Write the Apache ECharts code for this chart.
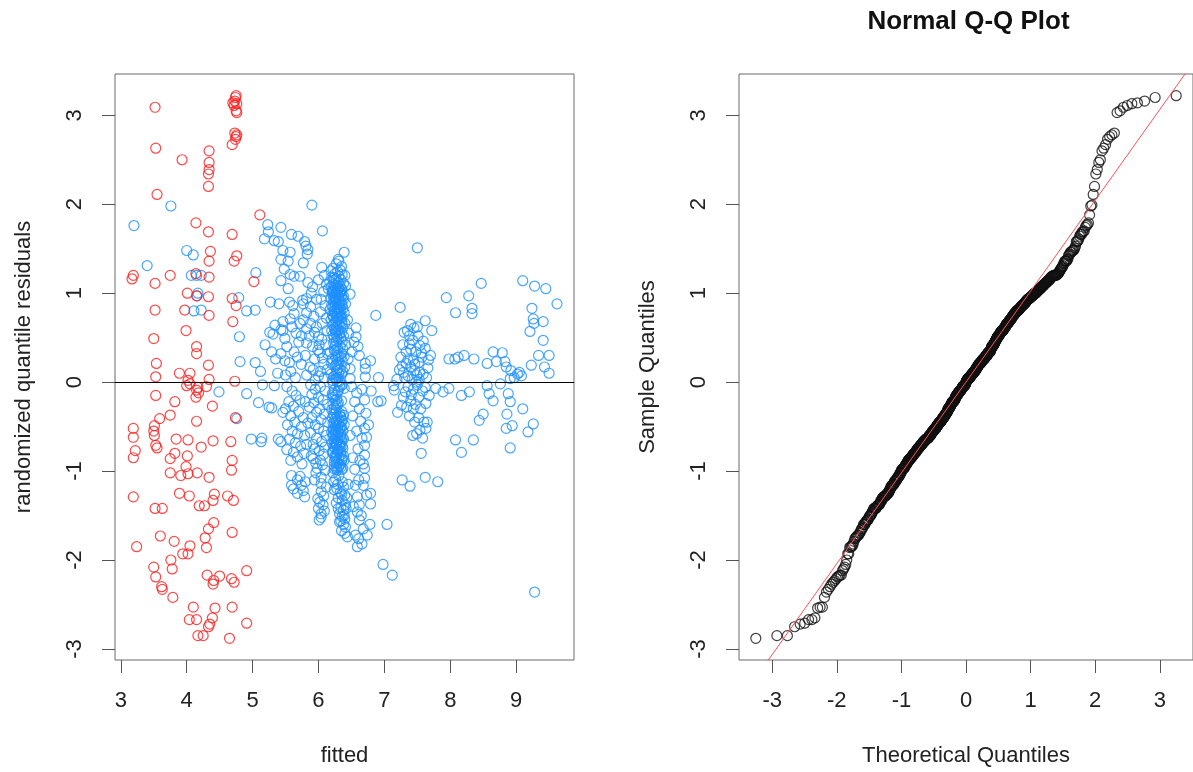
<!DOCTYPE html>
<html>
<head>
<meta charset="utf-8">
<script src="https://cdn.jsdelivr.net/npm/echarts@6/dist/echarts.min.js"></script>
<style>
  html, body { margin: 0; padding: 0; background: #fff; }
  #chart { width: 1193px; height: 772px; }
</style>
</head>
<body>
<div id="chart"></div>
<script>
// Randomized quantile residuals against fitted values, [fitted, residual]
// Observations with low fitted values (drawn in red)
const redPoints = [
  [3.52,3.09],[3.53,2.63],[3.55,2.11],[3.93,2.50],[4.34,2.60],[4.34,2.47],[4.34,2.39],[4.33,2.34],[4.33,2.20],
  [4.75,3.22],[4.74,3.20],[4.73,3.16],[4.70,3.14],[4.76,3.13],[4.72,3.11],[4.75,3.05],[4.76,3.03],
  [4.73,2.80],[4.76,2.78],[4.75,2.76],[4.74,2.73],[4.69,2.67],
  [5.11,1.88],[4.14,1.79],[4.33,1.69],[4.69,1.66],[4.36,1.47],[4.76,1.42],[4.34,1.36],[4.72,1.36],
  [3.19,1.20],[3.17,1.16],[3.75,1.20],[4.14,1.22],[4.34,1.18],[3.52,1.11],[5.02,1.13],[4.01,1.00],
  [4.15,0.97],[4.33,0.96],[4.69,0.94],[4.75,0.86],[3.52,0.81],[3.97,0.81],[4.34,0.75],[4.70,0.68],
  [3.99,0.58],[3.50,0.49],[4.15,0.40],[4.15,0.32],[3.54,0.21],[4.33,0.19],[3.89,0.10],[4.05,0.10],
  [3.53,0.06],[4.02,0.02],[4.34,0.03],[4.73,0.01],
  [3.53,-0.15],[4.00,-0.04],[4.05,-0.02],[4.15,-0.09],[4.18,-0.12],[4.17,-0.06],[4.30,-0.05],[4.14,-0.17],
  [3.82,-0.22],[4.39,-0.27],[3.75,-0.37],[3.59,-0.41],[4.74,-0.40],[4.15,-0.44],[3.19,-0.52],[3.51,-0.49],
  [3.50,-0.55],[3.51,-0.60],[3.19,-0.62],[3.84,-0.64],[4.02,-0.65],[4.40,-0.66],[4.67,-0.67],[3.53,-0.71],
  [3.55,-0.74],[4.22,-0.73],[3.22,-0.77],[3.82,-0.80],[3.75,-0.86],[3.19,-0.85],[4.01,-0.83],[4.69,-0.88],
  [3.99,-0.95],[4.68,-0.99],[3.75,-1.02],[4.16,-1.02],[3.91,-1.05],[4.02,-1.03],[4.34,-1.07],[3.89,-1.25],
  [4.04,-1.28],[4.42,-1.26],[4.62,-1.28],[4.71,-1.33],[3.19,-1.29],[4.19,-1.39],[4.27,-1.39],[4.40,-1.33],
  [3.52,-1.42],[3.63,-1.42],[4.41,-1.58],[4.33,-1.65],[4.69,-1.69],[3.60,-1.73],[4.28,-1.75],[3.81,-1.79],
  [4.05,-1.84],[3.24,-1.85],[4.30,-1.86],[3.94,-1.93],[4.02,-1.93],[3.76,-2.00],[3.78,-2.10],[3.50,-2.08],
  [3.53,-2.19],[3.62,-2.30],[3.63,-2.33],[4.31,-2.17],[4.41,-2.23],[4.40,-2.27],[4.50,-2.18],[4.68,-2.21],
  [4.72,-2.25],[4.91,-2.12],[3.79,-2.42],[4.10,-2.53],[4.43,-2.54],[4.69,-2.53],[4.04,-2.67],[4.15,-2.67],
  [4.39,-2.65],[4.33,-2.75],[4.35,-2.72],[4.17,-2.85],[4.25,-2.85],[4.65,-2.88],[4.91,-2.71]
];

// Remaining observations (drawn in blue): scattered points left of 5.8
const blueLeft = [
  [3.20,1.76],[3.40,1.31],[3.76,1.98],[4.00,1.48],[4.10,1.43],[4.07,1.20],[4.15,1.20],[4.22,1.20],
  [4.17,1.00],[4.16,0.97],[4.11,0.80],[4.22,0.81],[4.79,0.95],[4.80,0.51],[4.81,0.23],[5.05,1.23],
  [4.91,0.80],[5.04,0.81],[5.04,0.22],[5.90,1.99],[6.06,1.70],[7.50,1.51],
  [4.49,-0.11],[4.76,-0.41],[4.91,-0.13],[5.15,-0.03],[5.33,-0.04],[5.09,-0.23],[5.25,-0.28],[5.29,-0.29],
  [5.46,-0.34],[4.98,-0.64],[5.14,-0.63],[5.13,-0.67],[5.39,-0.64],[5.43,-0.67],[6.59,-1.85],[7.04,-1.60],
  [6.98,-2.05],[7.12,-2.17],[9.28,-2.36],
  [5.23,1.77],[5.24,1.69],[5.18,1.61],[5.43,1.74],[5.33,1.59],[5.39,1.58],[5.59,1.66],[5.69,1.64],
  [5.79,1.58],[5.81,1.53],[5.84,1.49],[5.83,1.44],[5.77,1.34],[5.46,1.48],[5.57,1.46],[5.43,1.38],
  [5.54,1.36],[5.48,1.27],[5.57,1.21],[5.63,1.19],[5.72,1.19],[5.43,1.14],[5.54,1.05],
  [5.27,0.90],[5.40,0.88],[5.56,0.90],[5.61,0.86],[5.63,0.77],[5.57,0.71],[5.46,0.68],[5.34,0.64],
  [5.26,0.56],[5.31,0.54],[5.43,0.59],[5.49,0.49],[5.46,0.58],[5.19,0.42],[5.29,0.34],[5.35,0.26],
  [5.43,0.32],[5.49,0.24],[5.56,0.22],[5.63,0.34],[5.60,0.62],[5.66,0.55],[5.70,0.45],[5.52,0.40],
  [5.58,0.12],[5.65,0.05],[5.50,0.08],[5.74,0.20],[5.68,0.28],[5.38,0.10],[5.72,0.66],[5.76,0.92],[5.12,0.12],
  [5.52,-0.05],[5.60,-0.10],[5.66,-0.15],[5.55,-0.22],[5.72,-0.20],[5.62,-0.27],[5.50,-0.30],[5.70,-0.33],
  [5.58,-0.38],[5.77,-0.40],[5.64,-0.45],[5.53,-0.48],[5.74,-0.50],[5.60,-0.55],[5.68,-0.58],[5.79,-0.60],
  [5.56,-0.64],[5.65,-0.68],[5.73,-0.72],[5.52,-0.76],[5.62,-0.79],[5.78,-0.80],[5.68,-0.84],[5.58,-0.88],
  [5.75,-0.92],[5.82,-0.70],[5.84,-0.46],[5.80,-0.22],[5.59,-1.05],[5.59,-1.16],[5.68,-1.10],[5.74,-1.16],
  [5.77,-1.22],[5.79,-1.29],[5.68,-1.25],[5.62,-1.20],[5.72,-1.06],[5.80,-1.12]
];

// Blue column around fitted 5.8 - 6.15
const blueMid = [
  [5.84,1.12],[5.89,1.00],[5.82,0.94],[5.77,0.88],[5.88,0.85],[5.82,0.78],[5.93,0.74],[5.77,0.70],
  [5.88,0.66],[5.82,0.60],[5.94,0.56],[6.00,0.51],[5.74,0.52],[5.82,0.44],[5.91,0.40],[5.99,0.36],
  [5.80,0.30],[5.94,0.26],[6.06,0.27],[5.87,0.17],[6.03,0.12],[5.82,0.08],[6.09,0.05],[5.95,0.02],
  [6.05,1.29],[6.09,1.20],[6.00,1.15],[6.12,1.10],[6.08,1.02],[6.04,0.93],[6.10,0.86],[6.03,0.79],
  [6.12,0.72],[6.06,0.66],[6.13,0.58],[6.05,0.48],[6.11,0.42],[6.02,0.33],[6.14,0.32],[6.08,0.20],
  [6.13,0.14],[6.00,0.07],[5.97,0.93],[5.86,0.52],[5.97,0.62],[5.91,1.07],[6.01,0.42],[5.92,0.14],
  [5.88,-0.03],[5.95,-0.08],[6.03,-0.05],[6.10,-0.10],[5.90,-0.14],[6.00,-0.17],[6.07,-0.20],[5.93,-0.23],
  [6.13,-0.25],[5.86,-0.28],[6.02,-0.30],[5.97,-0.34],[6.09,-0.36],[5.90,-0.40],[6.04,-0.42],[6.14,-0.45],
  [5.95,-0.48],[6.00,-0.52],[6.08,-0.55],[5.88,-0.57],[6.12,-0.60],[5.97,-0.63],[6.05,-0.67],[5.92,-0.70],
  [6.10,-0.73],[6.01,-0.77],[5.92,-0.86],[6.08,-0.81],[5.96,-0.91],[6.03,-0.88],[5.94,-0.75],[6.06,-0.93],[5.89,-0.83],
  [5.98,-0.97],[6.04,-1.07],[6.10,-0.99],[6.04,-1.14],[6.04,-1.23],[5.99,-1.31],[6.07,-1.38],[6.04,-1.48],
  [6.04,-1.52],[6.00,-1.42],[6.08,-1.28],[6.12,-1.18],[5.96,-1.02],[6.02,-1.35],[5.94,-1.10],[6.09,-1.45],[6.01,-1.55]
];

// Dense blue column around fitted 6.2 - 6.45
const blueCore = [
  [6.39,1.46],[6.30,1.38],[6.31,1.36],[6.27,1.33],[6.35,1.30],[6.22,1.28],[6.33,1.26],[6.29,1.24],
  [6.25,1.22],[6.36,1.21],[6.31,1.19],[6.20,1.18],[6.27,1.16],[6.34,1.15],[6.24,1.14],[6.30,1.12],
  [6.38,1.11],[6.22,1.10],[6.28,1.09],[6.33,1.08],[6.19,1.07],[6.26,1.06],[6.31,1.05],[6.36,1.04],
  [6.23,1.03],[6.29,1.03],[6.34,1.02],[6.21,1.01],[6.27,1.01],[6.32,1.00],[6.25,1.00],[6.17,1.13],
  [6.19,1.25],[6.40,1.20],[6.41,1.08],[6.23,1.17],[6.15,1.05],
  [6.24,1.085],[6.30,1.065],[6.35,1.045],[6.21,1.025],[6.33,1.005],[6.27,0.985],[6.38,0.965],[6.23,0.945],
  [6.31,0.925],[6.26,0.905],[6.35,0.885],[6.20,0.865],[6.30,0.845],[6.37,0.825],[6.25,0.805],[6.32,0.785],
  [6.28,0.765],[6.22,0.745],[6.34,0.725],[6.29,0.705],
  [6.21,0.99],[6.29,0.98],[6.35,0.97],[6.25,0.96],[6.31,0.95],[6.19,0.94],[6.38,0.93],[6.27,0.92],
  [6.33,0.91],[6.23,0.90],[6.30,0.89],[6.41,0.88],[6.26,0.87],[6.36,0.86],[6.22,0.85],[6.32,0.84],
  [6.28,0.83],[6.18,0.82],[6.34,0.81],[6.24,0.80],[6.30,0.79],[6.39,0.78],[6.26,0.77],[6.21,0.76],
  [6.33,0.75],[6.28,0.74],[6.36,0.73],[6.23,0.72],[6.31,0.71],[6.19,0.70],[6.27,0.69],[6.35,0.68],
  [6.25,0.67],[6.40,0.66],[6.30,0.65],[6.22,0.64],[6.33,0.63],[6.28,0.62],[6.37,0.61],[6.24,0.60],
  [6.31,0.59],[6.20,0.58],[6.29,0.57],[6.35,0.56],[6.26,0.55],[6.32,0.54],[6.22,0.53],[6.38,0.52],
  [6.28,0.51],[6.24,0.50],[6.25,0.935],[6.32,0.875],[6.29,0.815],[6.36,0.655],[6.26,0.585],
  [6.34,0.49],[6.30,0.48],[6.27,0.46],[6.36,0.45],[6.23,0.44],[6.41,0.42],[6.26,0.41],[6.33,0.40],
  [6.29,0.38],[6.37,0.37],[6.25,0.36],[6.18,0.34],[6.28,0.33],[6.35,0.32],[6.30,0.30],[6.39,0.29],
  [6.26,0.28],[6.21,0.26],[6.29,0.25],[6.36,0.24],[6.31,0.22],[6.20,0.21],[6.27,0.20],[6.25,0.18],
  [6.40,0.17],[6.30,0.16],[6.33,0.14],[6.28,0.13],[6.37,0.12],[6.31,0.10],[6.19,0.09],[6.27,0.08],
  [6.23,0.06],[6.30,0.05],[6.26,0.04],[6.21,0.02],[6.32,0.01],[6.28,0.005],
  [6.24,0.355],[6.34,0.285],[6.29,0.195],[6.35,0.095],[6.27,0.035],
  [6.22,-0.01],[6.36,-0.03],[6.33,-0.05],[6.39,-0.07],[6.24,-0.09],[6.29,-0.11],[6.21,-0.13],[6.26,-0.15],
  [6.23,-0.17],[6.28,-0.19],[6.35,-0.21],[6.30,-0.23],[6.22,-0.25],[6.27,-0.27],[6.24,-0.29],[6.20,-0.31],
  [6.35,-0.33],[6.26,-0.34],[6.32,-0.35],[6.23,-0.36],[6.38,-0.37],[6.28,-0.38],[6.34,-0.39],[6.21,-0.40],
  [6.30,-0.41],[6.25,-0.42],[6.36,-0.43],[6.27,-0.44],[6.33,-0.45],[6.22,-0.46],[6.31,-0.47],[6.39,-0.48],
  [6.26,-0.49],[6.29,-0.50],[6.35,-0.51],[6.23,-0.52],[6.32,-0.53],[6.27,-0.54],[6.37,-0.55],[6.20,-0.56],
  [6.30,-0.57],[6.25,-0.58],[6.34,-0.59],[6.28,-0.60],[6.22,-0.61],[6.33,-0.62],[6.26,-0.63],[6.38,-0.64],
  [6.30,-0.65],[6.24,-0.66],[6.35,-0.67],[6.28,-0.68],[6.21,-0.69],[6.32,-0.70],[6.27,-0.71],[6.36,-0.72],
  [6.25,-0.74],[6.31,-0.76],[6.22,-0.78],[6.34,-0.79],[6.28,-0.81],[6.38,-0.83],[6.25,-0.85],[6.31,-0.86],
  [6.35,-0.88],[6.27,-0.90],[6.33,-0.92],[6.24,-0.94],[6.30,-0.96],[6.37,-0.97],[6.28,-0.99],
  [6.32,-0.035],[6.30,-0.095],[6.22,-0.145],[6.25,-0.205],[6.29,-0.255],[6.27,-0.315],[6.33,-0.385],[6.36,-0.435],
  [6.24,-0.455],[6.30,-0.485],[6.34,-0.505],[6.26,-0.535],[6.31,-0.565],[6.23,-0.595],[6.36,-0.625],[6.29,-0.655],
  [6.26,-0.695],[6.33,-0.735],[6.29,-0.775],[6.25,-0.825],[6.36,-0.865],[6.29,-0.915],[6.34,-0.955],[6.24,-0.975],[6.23,-0.545],
  [6.26,-0.685],[6.33,-0.705],[6.23,-0.725],[6.37,-0.745],[6.29,-0.765],[6.21,-0.795],[6.34,-0.815],[6.27,-0.845],
  [6.39,-0.875],[6.24,-0.895],[6.32,-0.935],[6.27,-0.965],[6.35,-0.985],
  [6.22,-1.02],[6.31,-1.05],[6.26,-1.09],[6.36,-1.12],[6.29,-1.15],[6.38,-1.18],[6.24,-1.21],[6.33,-1.24],
  [6.40,-1.27],[6.30,-1.30],[6.36,-1.33],[6.27,-1.36],[6.41,-1.38],[6.34,-1.41],[6.38,-1.44],[6.32,-1.48],
  [6.36,-1.51],[6.40,-1.54],[6.34,-1.56],[6.38,-1.60],[6.41,-1.63],[6.35,-1.67],[6.40,-1.70],[6.44,-1.74],
  [6.43,-1.30],[6.45,-1.15],[6.39,-1.50],[6.32,-1.57],[6.42,-1.42],[6.28,-1.20],[6.35,-1.26],[6.23,-1.12],[6.30,-1.42]
];

// Blue column around fitted 6.45 - 6.95
const blueColumnD = [
  [6.48,0.99],[6.57,0.61],[6.57,0.51],[6.54,0.45],[6.51,0.34],[6.45,0.26],[6.48,0.15],[6.48,0.04],
  [6.62,0.30],[6.71,0.21],[6.71,0.15],[6.79,0.24],[6.71,0.06],[6.91,0.05],[6.87,0.75],[6.44,0.70],
  [6.46,0.55],[6.60,0.40],
  [6.56,-1.16],[6.59,-1.29],[6.62,-1.38],[6.59,-1.46],[6.62,-1.55],[6.56,-1.72],[6.61,-1.76],[6.68,-1.65],
  [6.65,-1.50],[6.68,-1.16],[6.70,-1.08],[6.73,-1.27],[6.70,-0.97],[6.68,-0.92],[6.70,-0.82],[6.70,-0.71],
  [6.73,-0.62],[6.70,-0.52],[6.79,-1.25],[6.79,-1.37],[6.78,-1.60],
  [6.50,-0.05],[6.58,-0.12],[6.66,-0.08],[6.55,-0.22],[6.62,-0.30],[6.70,-0.20],[6.52,-0.38],[6.64,-0.44],
  [6.72,-0.35],[6.58,-0.55],[6.48,-0.60],[6.66,-0.63],[6.60,-0.75],[6.76,-0.48],[6.80,-0.10],[6.90,-0.22],
  [6.52,-0.85],[6.63,-0.88],[6.55,-0.98],[6.66,-1.82],[6.74,-1.72],[6.61,-1.10],[6.53,-1.40]
];

// Blue points with fitted 7 and above
const blueRight = [
  [7.24,0.84],[7.30,0.56],[7.35,0.58],[7.38,0.52],[7.45,0.61],[7.51,0.52],[7.59,0.46],[7.62,0.69],
  [7.67,0.25],[7.66,0.16],[7.54,0.41],[7.48,0.34],[7.40,0.37],[7.33,0.34],[7.36,0.25],[7.27,0.18],
  [7.23,0.14],[7.29,0.11],[7.40,0.17],[7.46,0.13],[7.49,0.08],[7.54,0.11],[7.59,0.09],[7.64,0.05],
  [7.42,0.03],[7.48,0.00],[7.36,0.07],[7.31,0.05],[7.19,0.03],[7.44,0.25],[7.52,0.22],[7.57,0.28],
  [7.38,0.43],[7.43,0.47],[7.50,0.62],[7.56,0.33],[7.33,0.21],[7.25,0.28],[7.62,0.38],[7.70,0.30],
  [7.72,0.58],[7.40,0.65],[7.28,0.42],[7.46,0.20],[7.53,0.03],
  [6.95,-0.21],[7.15,-0.09],[7.20,-0.34],[7.26,-0.26],[7.34,-0.28],[7.40,-0.21],[7.46,-0.45],[7.49,-0.58],
  [7.43,-0.60],[7.54,-0.54],[7.60,-0.45],[7.65,-0.45],[7.63,-0.52],[7.56,-0.80],[7.62,-1.07],[7.27,-1.10],
  [7.39,-1.17],[7.81,-1.12],[7.63,-0.24],[7.52,-0.17],[7.32,-0.11],[7.14,-0.04],
  [7.36,-0.05],[7.44,-0.08],[7.50,-0.03],[7.58,-0.10],[7.41,-0.14],[7.29,-0.17],[7.55,-0.30],[7.47,-0.25],
  [7.62,-0.06],[7.68,-0.15],[7.38,-0.38],[7.52,-0.40],[7.58,-0.63],[7.44,-0.30],
  [7.94,0.95],[8.08,0.78],[8.28,0.97],[8.33,0.83],[8.33,0.77],[8.47,1.11],[7.98,0.26],[8.07,0.26],
  [8.12,0.28],[8.21,0.30],[8.36,0.26],[8.56,0.21],[8.65,0.34],[8.70,0.23],[8.79,0.33],[8.83,0.23],
  [8.85,0.17],[8.92,0.13],[8.97,0.05],[9.02,0.09],[9.05,0.11],[8.91,0.04],[9.10,1.14],[9.28,1.08],
  [9.45,1.05],[9.62,0.88],[9.24,0.83],[9.26,0.71],[9.27,0.66],[9.21,0.57],[9.41,0.68],[9.41,0.47],
  [9.34,0.30],[9.50,0.30],[9.23,0.19],[9.43,0.17],[9.50,0.10],[9.08,0.07],
  [7.78,-0.07],[7.89,-0.11],[7.98,-0.07],[8.17,-0.15],[8.29,-0.11],[8.35,-0.65],[8.08,-0.65],[8.17,-0.79],
  [8.50,-0.36],[8.44,-0.43],[8.59,-0.13],[8.65,-0.21],[8.76,-0.02],[8.56,-0.04],[8.88,-0.13],[8.91,-0.22],
  [8.94,-0.49],[8.85,-0.52],[8.86,-0.36],[9.10,-0.30],[9.26,-0.47],[9.18,-0.56],[8.91,-0.74]
];

const bluePoints = [].concat(blueLeft, blueMid, blueCore, blueColumnD, blueRight);

// Tick values
const fittedTicks = [3, 4, 5, 6, 7, 8, 9];
const residualTicks = [-3, -2, -1, 0, 1, 2, 3];
const theoreticalTicks = [-3, -2, -1, 0, 1, 2, 3];

// ---- helpers ----
// Inverse standard normal CDF (Acklam's rational approximation)
function qnorm(p) {
  const a = [-3.969683028665376e+01, 2.209460984245205e+02, -2.759285104469687e+02, 1.383577518672690e+02, -3.066479806614716e+01, 2.506628277459239e+00];
  const b = [-5.447609879822406e+01, 1.615858368580409e+02, -1.556989798598866e+02, 6.680131188771972e+01, -1.328068155288572e+01];
  const c = [-7.784894002430293e-03, -3.223964580411365e-01, -2.400758277161838e+00, -2.549732539343734e+00, 4.374664141464968e+00, 2.938163982698783e+00];
  const d = [7.784695709041462e-03, 3.224671290700398e-01, 2.445134137142996e+00, 3.754408661907416e+00];
  const pl = 0.02425;
  let q, r;
  if (p < pl) {
    q = Math.sqrt(-2 * Math.log(p));
    return (((((c[0]*q+c[1])*q+c[2])*q+c[3])*q+c[4])*q+c[5]) / ((((d[0]*q+d[1])*q+d[2])*q+d[3])*q+1);
  }
  if (p > 1 - pl) {
    q = Math.sqrt(-2 * Math.log(1 - p));
    return -(((((c[0]*q+c[1])*q+c[2])*q+c[3])*q+c[4])*q+c[5]) / ((((d[0]*q+d[1])*q+d[2])*q+d[3])*q+1);
  }
  q = p - 0.5; r = q * q;
  return (((((a[0]*r+a[1])*r+a[2])*r+a[3])*r+a[4])*r+a[5])*q / (((((b[0]*r+b[1])*r+b[2])*r+b[3])*r+b[4])*r+1);
}
// Sample quantile (type 7)
function quantile(sorted, p) {
  const h = (sorted.length - 1) * p;
  const lo = Math.floor(h);
  const hi = Math.min(lo + 1, sorted.length - 1);
  return sorted[lo] + (h - lo) * (sorted[hi] - sorted[lo]);
}
// Axis limits padded by 4% on each side
function padded(values) {
  const lo = Math.min.apply(null, values), hi = Math.max.apply(null, values);
  const ext = (hi - lo) * 0.04;
  return [lo - ext, hi + ext];
}

// ---- Q-Q data ----
const allPoints = redPoints.concat(bluePoints);
const residuals = allPoints.map(p => p[1]).sort((a, b) => a - b);
const n = residuals.length;
const theoretical = residuals.map((_, i) => qnorm((i + 0.5) / n));
const qqPoints = residuals.map((r, i) => [theoretical[i], r]);
const q1 = quantile(residuals, 0.25), q3 = quantile(residuals, 0.75);
const slope = (q3 - q1) / (qnorm(0.75) - qnorm(0.25));
const intercept = q1 - slope * qnorm(0.25);

const fittedRange = padded(allPoints.map(p => p[0]));
const residRange = padded(residuals);
const theoRange = padded(theoretical);
const qqLine = [
  [theoRange[0], intercept + slope * theoRange[0]],
  [theoRange[1], intercept + slope * theoRange[1]]
];

// ---- layout & styles ----
const FONT = "'Liberation Sans', Arial, Helvetica, sans-serif";
const panelL = { left: 115, top: 74, width: 459, height: 588 };
const panelR = { left: 739, top: 74, width: 459, height: 588 };

function axis(gridIndex, range, ticks, name, nameGap, isY) {
  return {
    type: 'value', gridIndex: gridIndex, min: range[0], max: range[1],
    name: name, nameLocation: 'middle', nameGap: nameGap,
    nameTextStyle: { fontFamily: FONT, fontSize: 22, color: '#222' },
    axisLine: { show: false, onZero: false },
    splitLine: { show: false },
    axisTick: { show: true, inside: false, length: 13, customValues: ticks, lineStyle: { color: '#555', width: 1 } },
    axisLabel: { customValues: ticks, fontFamily: FONT, fontSize: 22, color: '#222', margin: isY ? 29 : 30, rotate: isY ? 90 : 0 }
  };
}

const circle = (color) => ({ color: 'rgba(0,0,0,0)', borderColor: color, borderWidth: 1.2 });

const chart = echarts.init(document.getElementById('chart'), null, { renderer: 'canvas' });
chart.setOption({
  animation: false,
  backgroundColor: '#ffffff',
  graphic: [{
    type: 'text',
    x: panelR.left + panelR.width / 2, y: 22,
    style: { text: 'Normal Q-Q Plot', font: 'bold 26px ' + FONT, fill: '#111', textAlign: 'center', textVerticalAlign: 'middle' }
  }],
  grid: [
    Object.assign({ show: true, borderColor: '#6a6a6a', borderWidth: 1, backgroundColor: 'transparent' }, panelL),
    Object.assign({ show: true, borderColor: '#6a6a6a', borderWidth: 1, backgroundColor: 'transparent' }, panelR)
  ],
  xAxis: [
    axis(0, fittedRange, fittedTicks, 'fitted', 85, false),
    axis(1, theoRange, theoreticalTicks, 'Theoretical Quantiles', 85, false)
  ],
  yAxis: [
    axis(0, residRange, residualTicks, 'randomized quantile residuals', 80, true),
    axis(1, residRange, residualTicks, 'Sample Quantiles', 80, true)
  ],
  series: [
    {
      type: 'scatter', xAxisIndex: 0, yAxisIndex: 0, data: bluePoints,
      symbol: 'circle', symbolSize: 10, itemStyle: circle('#1E90FF'), silent: true,
      markLine: {
        silent: true, symbol: ['none', 'none'], label: { show: false },
        lineStyle: { color: '#000', width: 1, type: 'solid' },
        data: [{ yAxis: 0 }]
      }
    },
    {
      type: 'scatter', xAxisIndex: 0, yAxisIndex: 0, data: redPoints,
      symbol: 'circle', symbolSize: 10, itemStyle: circle('#FF1A1A'), silent: true
    },
    {
      type: 'scatter', xAxisIndex: 1, yAxisIndex: 1, data: qqPoints,
      symbol: 'circle', symbolSize: 10, itemStyle: circle('#111'), silent: true
    },
    {
      type: 'line', xAxisIndex: 1, yAxisIndex: 1, data: qqLine, clip: true,
      showSymbol: false, silent: true, z: 5,
      lineStyle: { color: '#ff5050', width: 1 }
    }
  ]
});
</script>
</body>
</html>
